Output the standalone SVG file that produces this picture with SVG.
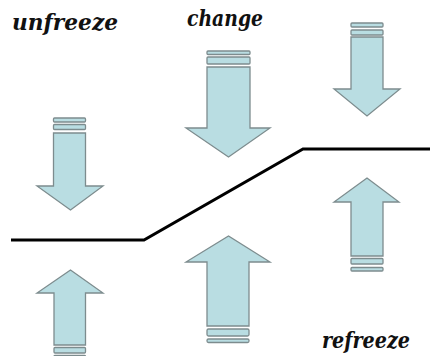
<svg xmlns="http://www.w3.org/2000/svg" width="430" height="356" viewBox="0 0 430 356">
  <style>
    .arrow { fill: #b9dde2; stroke: #7d8c8e; stroke-width: 1.3; stroke-linejoin: miter; }
    .bar { fill: #b9dde2; stroke: #7d8c8e; stroke-width: 1.3; }
    .label { font-family: 'DejaVu Serif', 'Liberation Serif', serif; font-style: italic; font-weight: bold; font-size: 22px; fill: #111; }
    .conn { fill: none; stroke: #000; stroke-width: 3; }
  </style>
  <rect width="430" height="356" fill="#fff"/>

  <g id="connectors">
    <polyline class="conn" points="11,240 144,240 303,149 430,149"/>
  </g>

  <g id="label-unfreeze"><text class="label" x="12" y="30" textLength="106" lengthAdjust="spacingAndGlyphs">unfreeze</text></g>
  <g id="label-change"><text class="label" x="187" y="26" textLength="76" lengthAdjust="spacingAndGlyphs">change</text></g>
  <g id="label-refreeze"><text class="label" x="322" y="348" textLength="88" lengthAdjust="spacingAndGlyphs">refreeze</text></g>

  <!-- downward arrow, left -->
  <g id="arrow-down-left">
    <rect class="bar" x="53.5" y="118" width="32" height="4" rx="1"/>
    <rect class="bar" x="53.5" y="124.5" width="32" height="5" rx="1"/>
    <path class="arrow" d="M53.5,133 H85.5 V186 H103 L70.5,210 L37,186 H53.5 Z"/>
  </g>

  <!-- downward arrow, middle -->
  <g id="arrow-down-middle">
    <rect class="bar" x="207" y="51" width="43" height="3.5" rx="1"/>
    <rect class="bar" x="207" y="57" width="43" height="7" rx="1"/>
    <path class="arrow" d="M207,67 H250 V128 H270 L228.5,157 L186,128 H207 Z"/>
  </g>

  <!-- downward arrow, right -->
  <g id="arrow-down-right">
    <rect class="bar" x="351" y="23" width="32" height="4" rx="1"/>
    <rect class="bar" x="351" y="30" width="32" height="5" rx="1"/>
    <path class="arrow" d="M351,37 H383 V89 H400 L367,116 L334,89 H351 Z"/>
  </g>

  <!-- upward arrow, right -->
  <g id="arrow-up-right">
    <path class="arrow" d="M351,256 V202 H334 L367,178 L399,202 H383 V256 Z"/>
    <rect class="bar" x="351" y="258.5" width="32" height="5.5" rx="1"/>
    <rect class="bar" x="351" y="267.5" width="32" height="3.5" rx="1"/>
  </g>

  <!-- upward arrow, middle -->
  <g id="arrow-up-middle">
    <path class="arrow" d="M207,326 V262 H186 L228.5,236 L270,262 H249 V326 Z"/>
    <rect class="bar" x="207" y="329" width="42" height="7" rx="1.5"/>
    <rect class="bar" x="207" y="339" width="42" height="3.5" rx="1.5"/>
  </g>

  <!-- upward arrow, left -->
  <g id="arrow-up-left">
    <path class="arrow" d="M54,345 V293 H37 L70.5,270 L103,293 H85.5 V345 Z"/>
    <rect class="bar" x="54" y="347.5" width="31.5" height="5.5" rx="1"/>
    <rect class="bar" x="54" y="355.5" width="31.5" height="4" rx="1"/>
  </g>
</svg>
